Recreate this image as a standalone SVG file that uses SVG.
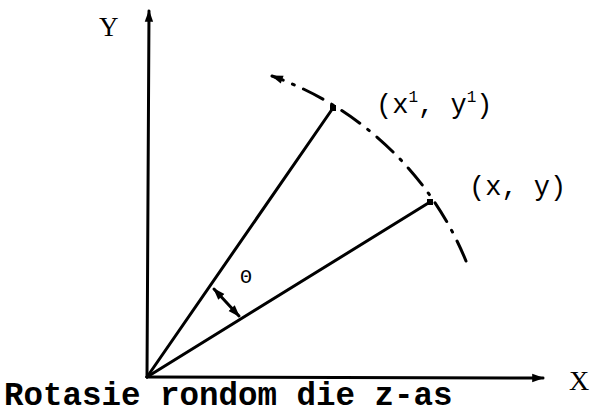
<svg xmlns="http://www.w3.org/2000/svg" width="595" height="420" viewBox="0 0 595 420">
<defs>
<style>
.ln{stroke:#000;stroke-width:3;fill:none;stroke-linecap:round}
.t{font-family:"Liberation Mono","Courier New",monospace;fill:#000}
.s{font-family:"Liberation Serif","Times New Roman",serif;fill:#000}
</style>
<marker id="ah" viewBox="0 0 10 10" refX="9" refY="5" markerWidth="8" markerHeight="4" orient="auto" markerUnits="strokeWidth">
<path d="M0,1.5 L10,5 L0,8.5 z" fill="#000"/>
</marker>
<marker id="ahs" viewBox="0 0 10 10" refX="9" refY="5" markerWidth="4" markerHeight="4" orient="auto-start-reverse" markerUnits="strokeWidth">
<path d="M0,1.5 L10,5 L0,8.5 z" fill="#000"/>
</marker>
</defs>
<rect width="595" height="420" fill="#fff"/>
<g id="axes">
<line class="ln" x1="147" y1="377" x2="149" y2="11" marker-end="url(#ah)"/>
<line class="ln" x1="147" y1="377" x2="543" y2="378" marker-end="url(#ah)"/>
<text class="s" x="99" y="36" font-size="27">Y</text>
<text class="s" x="569" y="390" font-size="28">X</text>
</g>
<g id="connectors">
<line class="ln" x1="147" y1="377" x2="333" y2="108"/>
<line class="ln" x1="147" y1="377" x2="430" y2="202"/>
<path class="ln" d="M466,261 A 328 328 0 0 0 272,76" stroke-dasharray="22,10,2,10" marker-end="url(#ah)"/>
<line class="ln" x1="214" y1="289" x2="239" y2="316" stroke-width="2.6" marker-start="url(#ahs)" marker-end="url(#ahs)"/>
</g>
<g id="point1">
<rect x="330" y="105" width="6" height="6" fill="#000"/>
<text class="t" x="376" y="113" font-size="27">(x<tspan font-size="16" dy="-11">1</tspan><tspan dy="11">, y</tspan><tspan font-size="16" dy="-11">1</tspan><tspan dy="11">)</tspan></text>
</g>
<g id="point2">
<rect x="427" y="199" width="6" height="6" fill="#000"/>
<text class="t" x="469" y="195" font-size="27">(x, y)</text>
</g>
<g id="angle">
<text class="t" x="246" y="283" font-size="20" text-anchor="middle">Θ</text>
</g>
<g id="caption">
<text class="t" x="4" y="405" font-size="32.5" font-weight="bold">Rotasie rondom die z-as</text>
</g>
</svg>
